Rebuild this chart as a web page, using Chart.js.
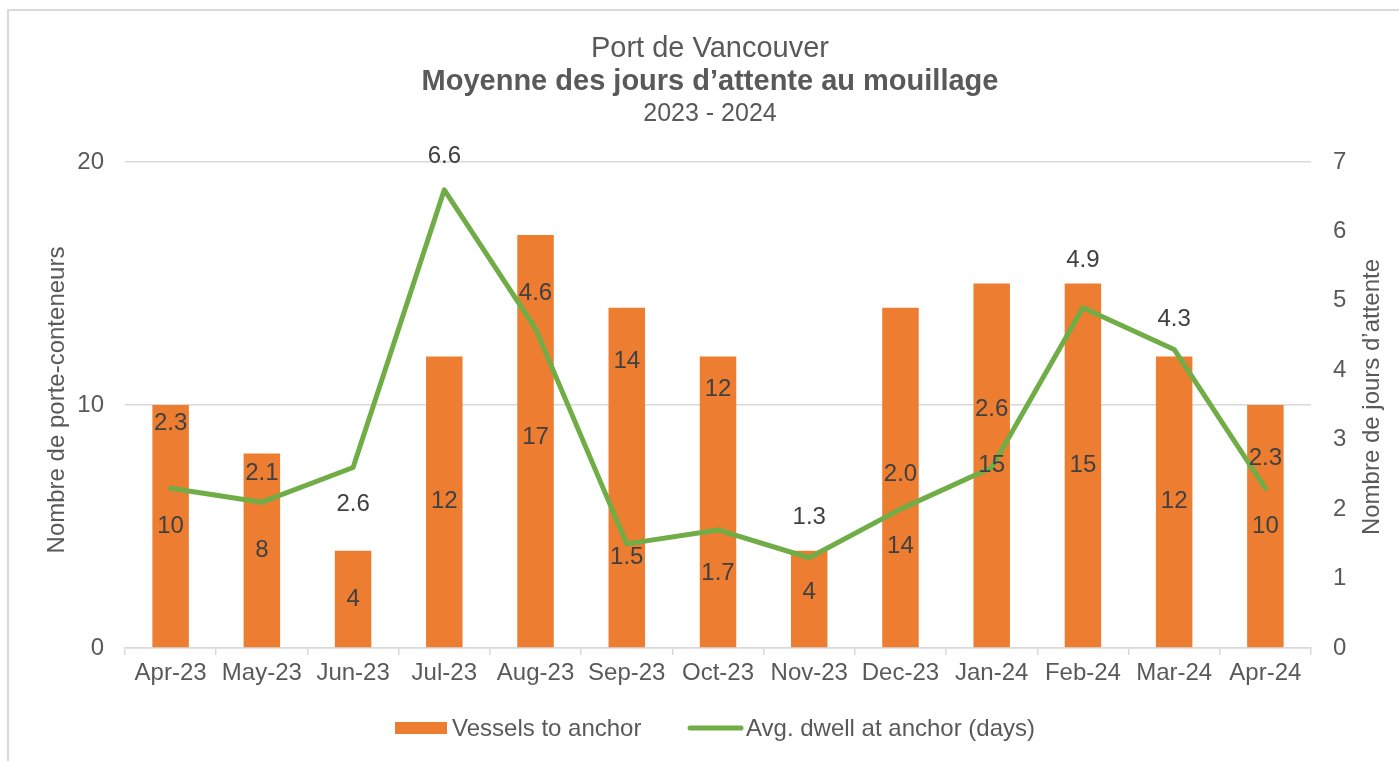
<!DOCTYPE html>
<html>
<head>
<meta charset="utf-8">
<script src="https://cdn.jsdelivr.net/npm/chart.js@4.4.1/dist/chart.umd.min.js"></script>
<style>
  body { margin: 0; background: #fff; overflow: hidden; }
  #frame { position: absolute; left: 7px; top: 9px; width: 1420px; height: 780px; border: 2px solid #d9d9d9; }
  #chart { position: absolute; left: 0; top: 0; }
</style>
</head>
<body>
<div id="frame"></div>
<canvas id="chart" width="1399" height="761"></canvas>
<script>
var months = ["Apr-23", "May-23", "Jun-23", "Jul-23", "Aug-23", "Sep-23", "Oct-23",
              "Nov-23", "Dec-23", "Jan-24", "Feb-24", "Mar-24", "Apr-24"];
var vessels = [10, 8, 4, 12, 17, 14, 12, 4, 14, 15, 15, 12, 10];
var dwellDays = [2.3, 2.1, 2.6, 6.6, 4.6, 1.5, 1.7, 1.3, 2.0, 2.6, 4.9, 4.3, 2.3];

var titleLines = ["Port de Vancouver", "Moyenne des jours d\u2019attente au mouillage", "2023 - 2024"];
var leftAxisTitle = "Nombre de porte-conteneurs";
var rightAxisTitle = "Nombre de jours d\u2019attente";

// label nudges (px) so labels don't sit on top of each other, like the original
var barLabelShift = [0, 0, 0, 0, -4, -116, -112, -7, 69, 0, 0, 0, 0];
var lineLabelShift = [-65, -29, 37, -33, -35, 14, 43, -40, -35, -58, -47, -30, -30];

var ORANGE = "#ED7D31";
var GREEN = "#70AD47";
var GREY_TEXT = "#595959";
var LABEL_TEXT = "#404040";
var FONT = "'Liberation Sans', Arial, sans-serif";

var labelsPlugin = {
  id: "valueLabels",
  afterDatasetsDraw: function(chart) {
    var ctx = chart.ctx;
    ctx.save();
    ctx.font = "24px " + FONT;
    ctx.fillStyle = LABEL_TEXT;
    ctx.textAlign = "center";
    ctx.textBaseline = "middle";
    var barMeta = chart.getDatasetMeta(1);
    barMeta.data.forEach(function(el, i) {
      ctx.fillText(String(vessels[i]), el.x, (el.y + el.base) / 2 + barLabelShift[i]);
    });
    var lineMeta = chart.getDatasetMeta(0);
    lineMeta.data.forEach(function(el, i) {
      ctx.fillText(dwellDays[i].toFixed(1), el.x, el.y + lineLabelShift[i]);
    });
    ctx.restore();
  }
};

var decorPlugin = {
  id: "decor",
  afterDraw: function(chart) {
    var ctx = chart.ctx;
    ctx.save();
    ctx.fillStyle = GREY_TEXT;
    ctx.textAlign = "center";
    ctx.textBaseline = "alphabetic";
    ctx.font = "29px " + FONT;
    ctx.fillText(titleLines[0], 710, 57);
    ctx.font = "bold 29px " + FONT;
    ctx.fillText(titleLines[1], 710, 90);
    ctx.font = "25px " + FONT;
    ctx.fillText(titleLines[2], 710, 121);

    // axis titles
    ctx.font = "24px " + FONT;
    ctx.textBaseline = "middle";
    ctx.save();
    ctx.translate(57, 400);
    ctx.rotate(-Math.PI / 2);
    ctx.fillText(leftAxisTitle, 0, 0);
    ctx.restore();
    ctx.save();
    ctx.translate(1372, 397);
    ctx.rotate(-Math.PI / 2);
    ctx.fillText(rightAxisTitle, 0, 0);
    ctx.restore();

    // legend
    ctx.fillStyle = ORANGE;
    ctx.fillRect(395, 722, 52, 12);
    ctx.strokeStyle = GREEN;
    ctx.lineWidth = 5;
    ctx.lineCap = "round";
    ctx.beginPath();
    ctx.moveTo(690, 728);
    ctx.lineTo(741, 728);
    ctx.stroke();
    ctx.fillStyle = GREY_TEXT;
    ctx.textAlign = "left";
    ctx.fillText(chart.data.datasets[1].label, 452, 729);
    ctx.fillText(chart.data.datasets[0].label, 746, 729);
    ctx.restore();
  }
};

var ctx = document.getElementById("chart").getContext("2d");
var chart = new Chart(ctx, {
  type: "bar",
  data: {
    labels: months,
    datasets: [
      {
        type: "line",
        label: "Avg. dwell at anchor (days)",
        data: dwellDays,
        yAxisID: "yR",
        borderColor: GREEN,
        borderWidth: 5,
        borderJoinStyle: "round",
        borderCapStyle: "round",
        pointRadius: 0,
        tension: 0,
        order: 0
      },
      {
        type: "bar",
        label: "Vessels to anchor",
        data: vessels,
        yAxisID: "y",
        backgroundColor: ORANGE,
        barPercentage: 0.4,
        categoryPercentage: 1,
        order: 1
      }
    ]
  },
  options: {
    responsive: false,
    animation: false,
    layout: { padding: { top: 162, left: 0, right: 0, bottom: 0 } },
    plugins: {
      legend: { display: false },
      title: { display: false },
      tooltip: { enabled: false }
    },
    scales: {
      x: {
        grid: { offset: true, drawOnChartArea: false, drawTicks: true, tickLength: 7, color: "#d9d9d9", lineWidth: 1.5 },
        border: { color: "#d9d9d9", width: 1.5 },
        ticks: { color: GREY_TEXT, font: { family: FONT, size: 24 }, padding: 4, maxRotation: 0, autoSkip: false },
        afterFit: function(s) { s.height = 113; }
      },
      y: {
        position: "left",
        min: 0,
        max: 20,
        ticks: { stepSize: 10, color: GREY_TEXT, font: { family: FONT, size: 24 }, padding: 21 },
        grid: { color: "#d9d9d9", lineWidth: 1.5, drawTicks: false },
        border: { display: false },
        afterFit: function(s) { s.width = 125; }
      },
      yR: {
        position: "right",
        min: 0,
        max: 7,
        ticks: { stepSize: 1, color: GREY_TEXT, font: { family: FONT, size: 24 }, padding: 22 },
        grid: { display: false, drawTicks: false },
        border: { display: false },
        afterFit: function(s) { s.width = 88; }
      }
    }
  },
  plugins: [labelsPlugin, decorPlugin]
});
</script>
</body>
</html>
